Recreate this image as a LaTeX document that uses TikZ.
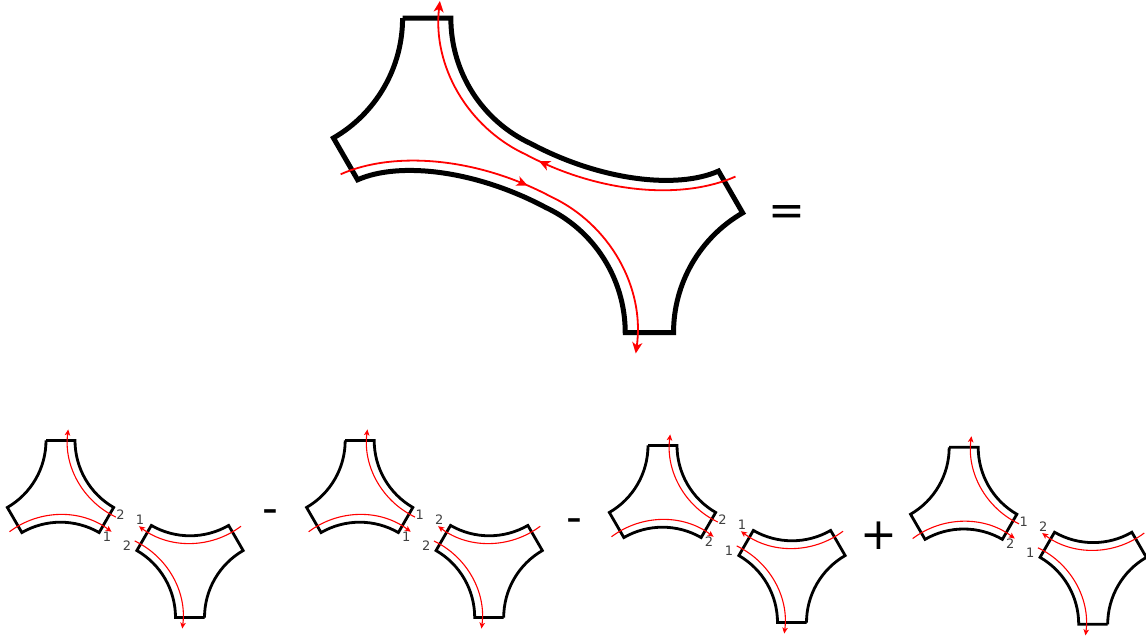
\documentclass[tikz,border=0pt]{standalone}
\usepackage{fontspec}
\usetikzlibrary{arrows.meta,decorations.markings}
\newfontfamily\lblfont{DejaVu Sans}
\tikzset{
  bigshape/.style={line width=5pt, line join=miter},
  smallshape/.style={line width=2.8pt, line join=miter},
  bigred/.style={red, line width=1.8pt},
  smallred/.style={red, line width=1.1pt},
  bigtip/.style={-{Stealth[length=11pt,width=10pt,inset=3pt]}},
  smalltip/.style={-{Stealth[length=6pt,width=5.5pt,inset=1.5pt]}},
  midtip/.style={postaction={decorate}, decoration={markings,
     mark=at position #1 with {\arrow{Stealth[length=11pt,width=10pt,inset=3pt]}}}},
  lbl/.style={text=black!75, font=\lblfont\fontsize{13}{13}\selectfont, inner sep=0pt},
  op/.style={font=\lblfont\fontsize{44}{44}\selectfont, inner sep=0pt}
}
% trinion outline: R, w, r, 2w
\newcommand\trinpath[4]{(-#2,#1) -- (#2,#1) arc[start angle=180,end angle=240,radius=#3] -- ++(240:#4) arc[start angle=60,end angle=120,radius=#3] -- ++(120:#4) arc[start angle=-60,end angle=0,radius=#3] -- cycle}
% one small trinion with its two red curves (local frame)
\newcommand\smalltrin{%
  \draw[smallshape] \trinpath{53}{14.5}{77.3}{29};
  \draw[smallred,smalltip] (91.8,53) ++(244.5:84.8) arc[start angle=244.5,end angle=172.5,radius=84.8];
  \draw[smallred,smalltip] (0,-106) ++(127:84.8) arc[start angle=127,end angle=53,radius=84.8];
}
% group: #1 A-centre x, #2 y, #3 name, #4..#7 labels
\newcommand\grp[7]{%
  \begin{scope}[shift={(#1,#2)}]
    \smalltrin
    \node[lbl] (#3a) at (60,-21) {#4};
    \node[lbl] (#3b) at (46.5,-43.5) {#5};
    \node[lbl] (#3c) at (79.5,-26.5) {#6};
    \node[lbl] (#3d) at (66.5,-52.5) {#7};
  \end{scope}
  \begin{scope}[shift={({#1+129.5},{#2-71})}, rotate=180]
    \smalltrin
  \end{scope}
}
\begin{document}
\begin{tikzpicture}[x=1pt,y=1pt]
\useasboundingbox (0,0) rectangle (1146,640);
% big shape (A-centre as origin, B-centre at (222.7,-126.85))
\begin{scope}[shift={(426.7,528)}]
  \draw[bigshape] (-24.15,93.75) -- (24.15,93.75)
    arc[start angle=180,end angle=245,radius=138.23]
    .. controls (174.6,-69.1) and (250.69,-77.36) .. (291.8,-59.06)
    -- ++(300:48.3)
    arc[start angle=120,end angle=180,radius=138.23]
    -- ++(180:48.3)
    arc[start angle=0,end angle=65,radius=138.23]
    .. controls (48.1,-57.75) and (-27.99,-49.49) .. (-69.1,-67.79)
    -- ++(120:48.3)
    arc[start angle=-60,end angle=0,radius=138.23] -- cycle;
  \draw[bigred,bigtip,midtip=0.5] (308.76,-64.57) .. controls (256.7,-87.75) and (173.95,-82.28) .. (98.9,-42.38)
    arc[start angle=245,end angle=173.4,radius=150.2];
  \draw[bigred,bigtip,midtip=0.47] (-86.06,-62.28) .. controls (-34.0,-39.1) and (48.75,-44.57) .. (123.8,-84.47)
    arc[start angle=65,end angle=-8,radius=150.2];
\end{scope}
\node[op] (eq) at (787,424) {=};
% bottom row
\grp{60.5}{146.5}{g1}{2}{1}{1}{2}
\node[op] (m1) at (270.5,123) {-};
\grp{359.7}{146.5}{g2}{1}{1}{2}{2}
\node[op] (m2) at (574.5,114) {-};
\grp{662.5}{141.5}{g3}{2}{2}{1}{1}
\node[op] (p1) at (879,104) {+};
\grp{963.7}{139.7}{g4}{1}{2}{2}{1}
\end{tikzpicture}
\end{document}
